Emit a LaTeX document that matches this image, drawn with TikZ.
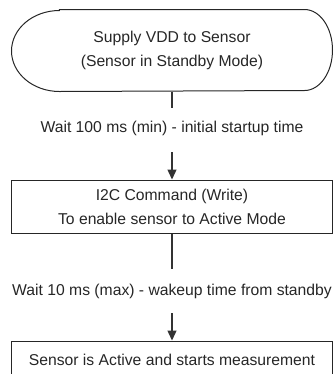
\documentclass[tikz,border=0pt]{standalone}
\usepackage{fontspec}
\setmainfont{Liberation Sans}
\usetikzlibrary{arrows.meta}

\tikzset{
    flowbox/.style = {draw = black!85, line width = 1bp, minimum width = 320bp, align = center, inner sep = 0pt},
    waittext/.style = {align = center, inner sep = 0pt},
    flowline/.style = {draw = black!80, line width = 1.3bp},
    flowarrow/.style = {flowline, -{Triangle[width = 9bp, length = 10bp]}}
}

\begin{document}
\begin{tikzpicture}[x = 1bp, y = -1bp, font = \fontsize{15.7bp}{24bp}\selectfont, text = black!85]
        \clip (0,0) rectangle (334,374);

        % start terminal
        \node [flowbox, draw = none, minimum height = 81bp] (supply) at (172,50.5) {Supply VDD to Sensor\\(Sensor in Standby Mode)};
        \draw [black!85, line width = 1bp] ([xshift = 48bp]supply.north west) -- ([xshift = -28bp]supply.north east)
            arc [start angle = 90, end angle = -90, x radius = 28bp, y radius = 40.5bp]
            -- ([xshift = 48bp]supply.south west)
            arc [start angle = 270, end angle = 90, x radius = 48bp, y radius = 40.5bp] -- cycle;

        \node [waittext] (waitstart) at (172,128) {Wait 100 ms (min) - initial startup time};
        \node [flowbox, minimum height = 53bp] (command) at (172,206.5) {I2C Command (Write)\\To enable sensor to Active Mode};
        \node [waittext] (waitwake) at (172,291) {Wait 10 ms (max) - wakeup time from standby};
        \node [flowbox, minimum height = 38bp] (active) at (172,360) {Sensor is Active and starts measurement};

        \coordinate (stopA) at (172,108);
        \coordinate (goA) at (172,152);
        \coordinate (stopB) at (172,269);
        \coordinate (goB) at (172,313);

        \draw [flowline] (supply.south) -- (stopA);
        \draw [flowarrow] (goA) -- (command.north);
        \draw [flowline] (command.south) -- (stopB);
        \draw [flowarrow] (goB) -- (active.north);
    \end{tikzpicture}
\end{document}
